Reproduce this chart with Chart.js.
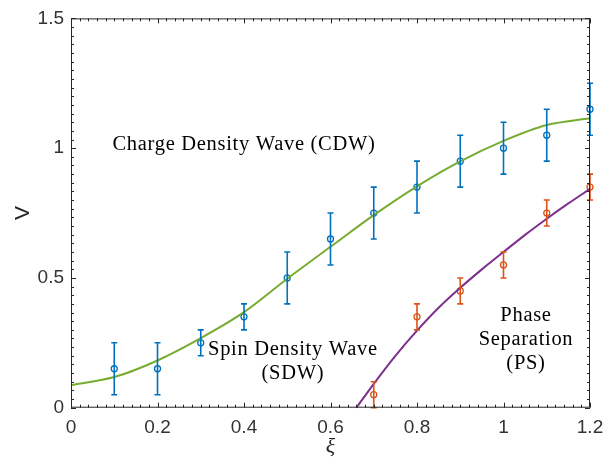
<!DOCTYPE html>
<html>
<head>
<meta charset="utf-8">
<script src="https://cdn.jsdelivr.net/npm/chart.js@4"></script>
<style>
  html, body { margin: 0; padding: 0; background: #fff; }
  #wrap { width: 613px; height: 464px; }
</style>
</head>
<body>
<div id="wrap"><canvas id="phaseChart" width="613" height="464"></canvas></div>
<script>
// Messpunkte (blau: CDW/SDW Grenze, orange: PS Grenze)
const xiBlue = [0.1, 0.2, 0.3, 0.4, 0.5, 0.6, 0.7, 0.8, 0.9, 1.0, 1.1, 1.2];
const vBlue = [0.15, 0.15, 0.25, 0.35, 0.5, 0.65, 0.75, 0.85, 0.95, 1.0, 1.05, 1.15];
const errBlue = [0.1, 0.1, 0.05, 0.05, 0.1, 0.1, 0.1, 0.1, 0.1, 0.1, 0.1, 0.1];

const xiOrange = [0.7, 0.8, 0.9, 1.0, 1.1, 1.2];
const vOrange = [0.05, 0.35, 0.45, 0.55, 0.75, 0.85];
const errOrange = [0.05, 0.05, 0.05, 0.05, 0.05, 0.05];

// Fit-Kurven
const xiGreenFit = [0, 0.1, 0.2, 0.3, 0.4, 0.5, 0.6, 0.7, 0.8, 0.9, 1.0, 1.1, 1.2];
const vGreenFit = [0.087, 0.118, 0.182, 0.268, 0.368, 0.497, 0.62, 0.742, 0.853, 0.949, 1.028, 1.089, 1.115];

const xiPurpleFit = [0.66, 0.7, 0.75, 0.8, 0.85, 0.9, 0.95, 1.0, 1.05, 1.1, 1.15, 1.2];
const vPurpleFit = [0, 0.092, 0.2, 0.297, 0.385, 0.462, 0.533, 0.6, 0.666, 0.728, 0.787, 0.843];

// Achsen
const xTicks = [0, 0.2, 0.4, 0.6, 0.8, 1.0, 1.2];
const yTicks = [0, 0.5, 1.0, 1.5];

const toPoints = (xs, ys) => xs.map((x, i) => ({ x: x, y: ys[i] }));

const AXIS_COLOR = '#262626';

// Fehlerbalken über die Skalen zeichnen
const errorBarPlugin = {
    id: 'errorBars',
    afterDatasetsDraw(chart) {
        const ctx = chart.ctx;
        const xs = chart.scales.x, ys = chart.scales.y;
        chart.data.datasets.forEach((ds) => {
            if (!ds.errors) return;
            ctx.save();
            ctx.strokeStyle = ds.borderColor;
            ctx.lineWidth = 1.6;
            ds.data.forEach((p, i) => {
                const px = xs.getPixelForValue(p.x);
                const top = ys.getPixelForValue(p.y + ds.errors[i]);
                const bot = ys.getPixelForValue(p.y - ds.errors[i]);
                ctx.beginPath();
                ctx.moveTo(px, top); ctx.lineTo(px, bot);
                ctx.moveTo(px - 3, top); ctx.lineTo(px + 3, top);
                ctx.moveTo(px - 3, bot); ctx.lineTo(px + 3, bot);
                ctx.stroke();
            });
            ctx.restore();
        });
    }
};

// Rahmen und Ticks nach innen (MATLAB-Stil)
const boxTicksPlugin = {
    id: 'boxTicks',
    afterDraw(chart) {
        const ctx = chart.ctx;
        const a = chart.chartArea;
        const xs = chart.scales.x, ys = chart.scales.y;
        ctx.save();
        ctx.strokeStyle = AXIS_COLOR;
        ctx.lineWidth = 1;
        ctx.strokeRect(a.left + 0.5, a.top + 0.5, a.right - a.left - 1, a.bottom - a.top - 1);
        ctx.beginPath();
        for (let i = 0; i <= 60; i++) {
            const v = i * 0.02;
            const len = (i % 10 === 0) ? 5 : 3;
            const px = Math.round(xs.getPixelForValue(v)) + 0.5;
            ctx.moveTo(px, a.bottom); ctx.lineTo(px, a.bottom - len);
            ctx.moveTo(px, a.top); ctx.lineTo(px, a.top + len);
        }
        for (let i = 0; i <= 45; i++) {
            const v = i / 30;
            const len = (i % 15 === 0) ? 5 : 3;
            const py = Math.round(ys.getPixelForValue(v)) + 0.5;
            ctx.moveTo(a.left, py); ctx.lineTo(a.left + len, py);
            ctx.moveTo(a.right, py); ctx.lineTo(a.right - len, py);
        }
        ctx.stroke();
        ctx.restore();
    }
};

// Beschriftungen der Phasen
const phaseLabelPlugin = {
    id: 'phaseLabels',
    afterDatasetsDraw(chart, args, opts) {
        const ctx = chart.ctx;
        const xs = chart.scales.x, ys = chart.scales.y;
        ctx.save();
        ctx.fillStyle = '#000';
        ctx.font = opts.font;
        ctx.textAlign = 'center';
        ctx.textBaseline = 'middle';
        if ('letterSpacing' in ctx) ctx.letterSpacing = opts.letterSpacing;
        opts.labels.forEach((l) => {
            ctx.fillText(l.text, xs.getPixelForValue(l.x), ys.getPixelForValue(l.y));
        });
        ctx.restore();
    }
};

const ctx = document.getElementById('phaseChart').getContext('2d');

window.phaseChart = new Chart(ctx, {
    data: {
        datasets: [
            {
                type: 'line',
                label: 'Fit CDW/SDW',
                data: toPoints(xiGreenFit, vGreenFit),
                borderColor: '#77AC30',
                borderWidth: 2,
                pointRadius: 0,
                cubicInterpolationMode: 'monotone',
                fill: false
            },
            {
                type: 'line',
                label: 'Fit PS',
                data: toPoints(xiPurpleFit, vPurpleFit),
                borderColor: '#7E2F8E',
                borderWidth: 2,
                pointRadius: 0,
                cubicInterpolationMode: 'monotone',
                fill: false
            },
            {
                type: 'scatter',
                label: 'CDW/SDW',
                data: toPoints(xiBlue, vBlue),
                errors: errBlue,
                borderColor: '#0072BD',
                backgroundColor: 'rgba(0,0,0,0)',
                borderWidth: 1.3,
                pointRadius: 3
            },
            {
                type: 'scatter',
                label: 'PS',
                data: toPoints(xiOrange, vOrange),
                errors: errOrange,
                borderColor: '#D95319',
                backgroundColor: 'rgba(0,0,0,0)',
                borderWidth: 1.3,
                pointRadius: 3
            }
        ]
    },
    options: {
        responsive: false,
        animation: false,
        clip: false,
        layout: { padding: { top: 15, right: 23, left: 0, bottom: 0 } },
        plugins: {
            legend: { display: false },
            tooltip: { enabled: false },
            phaseLabels: {
                font: '20.5px "Liberation Serif"',
                letterSpacing: '0.7px',
                labels: [
                    { text: 'Charge Density Wave (CDW)', x: 0.40, y: 1.014 },
                    { text: 'Spin Density Wave', x: 0.513, y: 0.224 },
                    { text: '(SDW)', x: 0.513, y: 0.132 },
                    { text: 'Phase', x: 1.052, y: 0.354 },
                    { text: 'Separation', x: 1.052, y: 0.262 },
                    { text: '(PS)', x: 1.052, y: 0.171 }
                ]
            }
        },
        scales: {
            x: {
                type: 'linear',
                min: 0,
                max: 1.2,
                afterFit: (s) => { s.height = 56.3; },
                afterBuildTicks: (s) => { s.ticks = xTicks.map(v => ({ value: v })); },
                grid: { display: false, drawTicks: false },
                border: { display: false },
                ticks: {
                    padding: 9,
                    color: '#333',
                    font: { family: '"Liberation Sans", Arial, sans-serif', size: 19 },
                    callback: (v) => String(Math.round(v * 10) / 10)
                },
                title: {
                    display: true,
                    text: 'ξ',
                    color: AXIS_COLOR,
                    padding: { top: 2 },
                    font: { family: '"Liberation Serif", serif', size: 22, style: 'italic' }
                }
            },
            y: {
                type: 'linear',
                min: 0,
                max: 1.5,
                afterFit: (s) => { s.width = 71; },
                afterBuildTicks: (s) => { s.ticks = yTicks.map(v => ({ value: v })); },
                grid: { display: false, drawTicks: false },
                border: { display: false },
                ticks: {
                    padding: 7,
                    color: '#333',
                    font: { family: '"Liberation Sans", Arial, sans-serif', size: 19 },
                    callback: (v) => String(Math.round(v * 10) / 10)
                },
                title: {
                    display: true,
                    text: 'V',
                    color: AXIS_COLOR,
                    padding: { top: 11 },
                    font: { family: '"Liberation Sans", Arial, sans-serif', size: 21 }
                }
            }
        }
    },
    plugins: [errorBarPlugin, boxTicksPlugin, phaseLabelPlugin]
});
</script>
</body>
</html>
